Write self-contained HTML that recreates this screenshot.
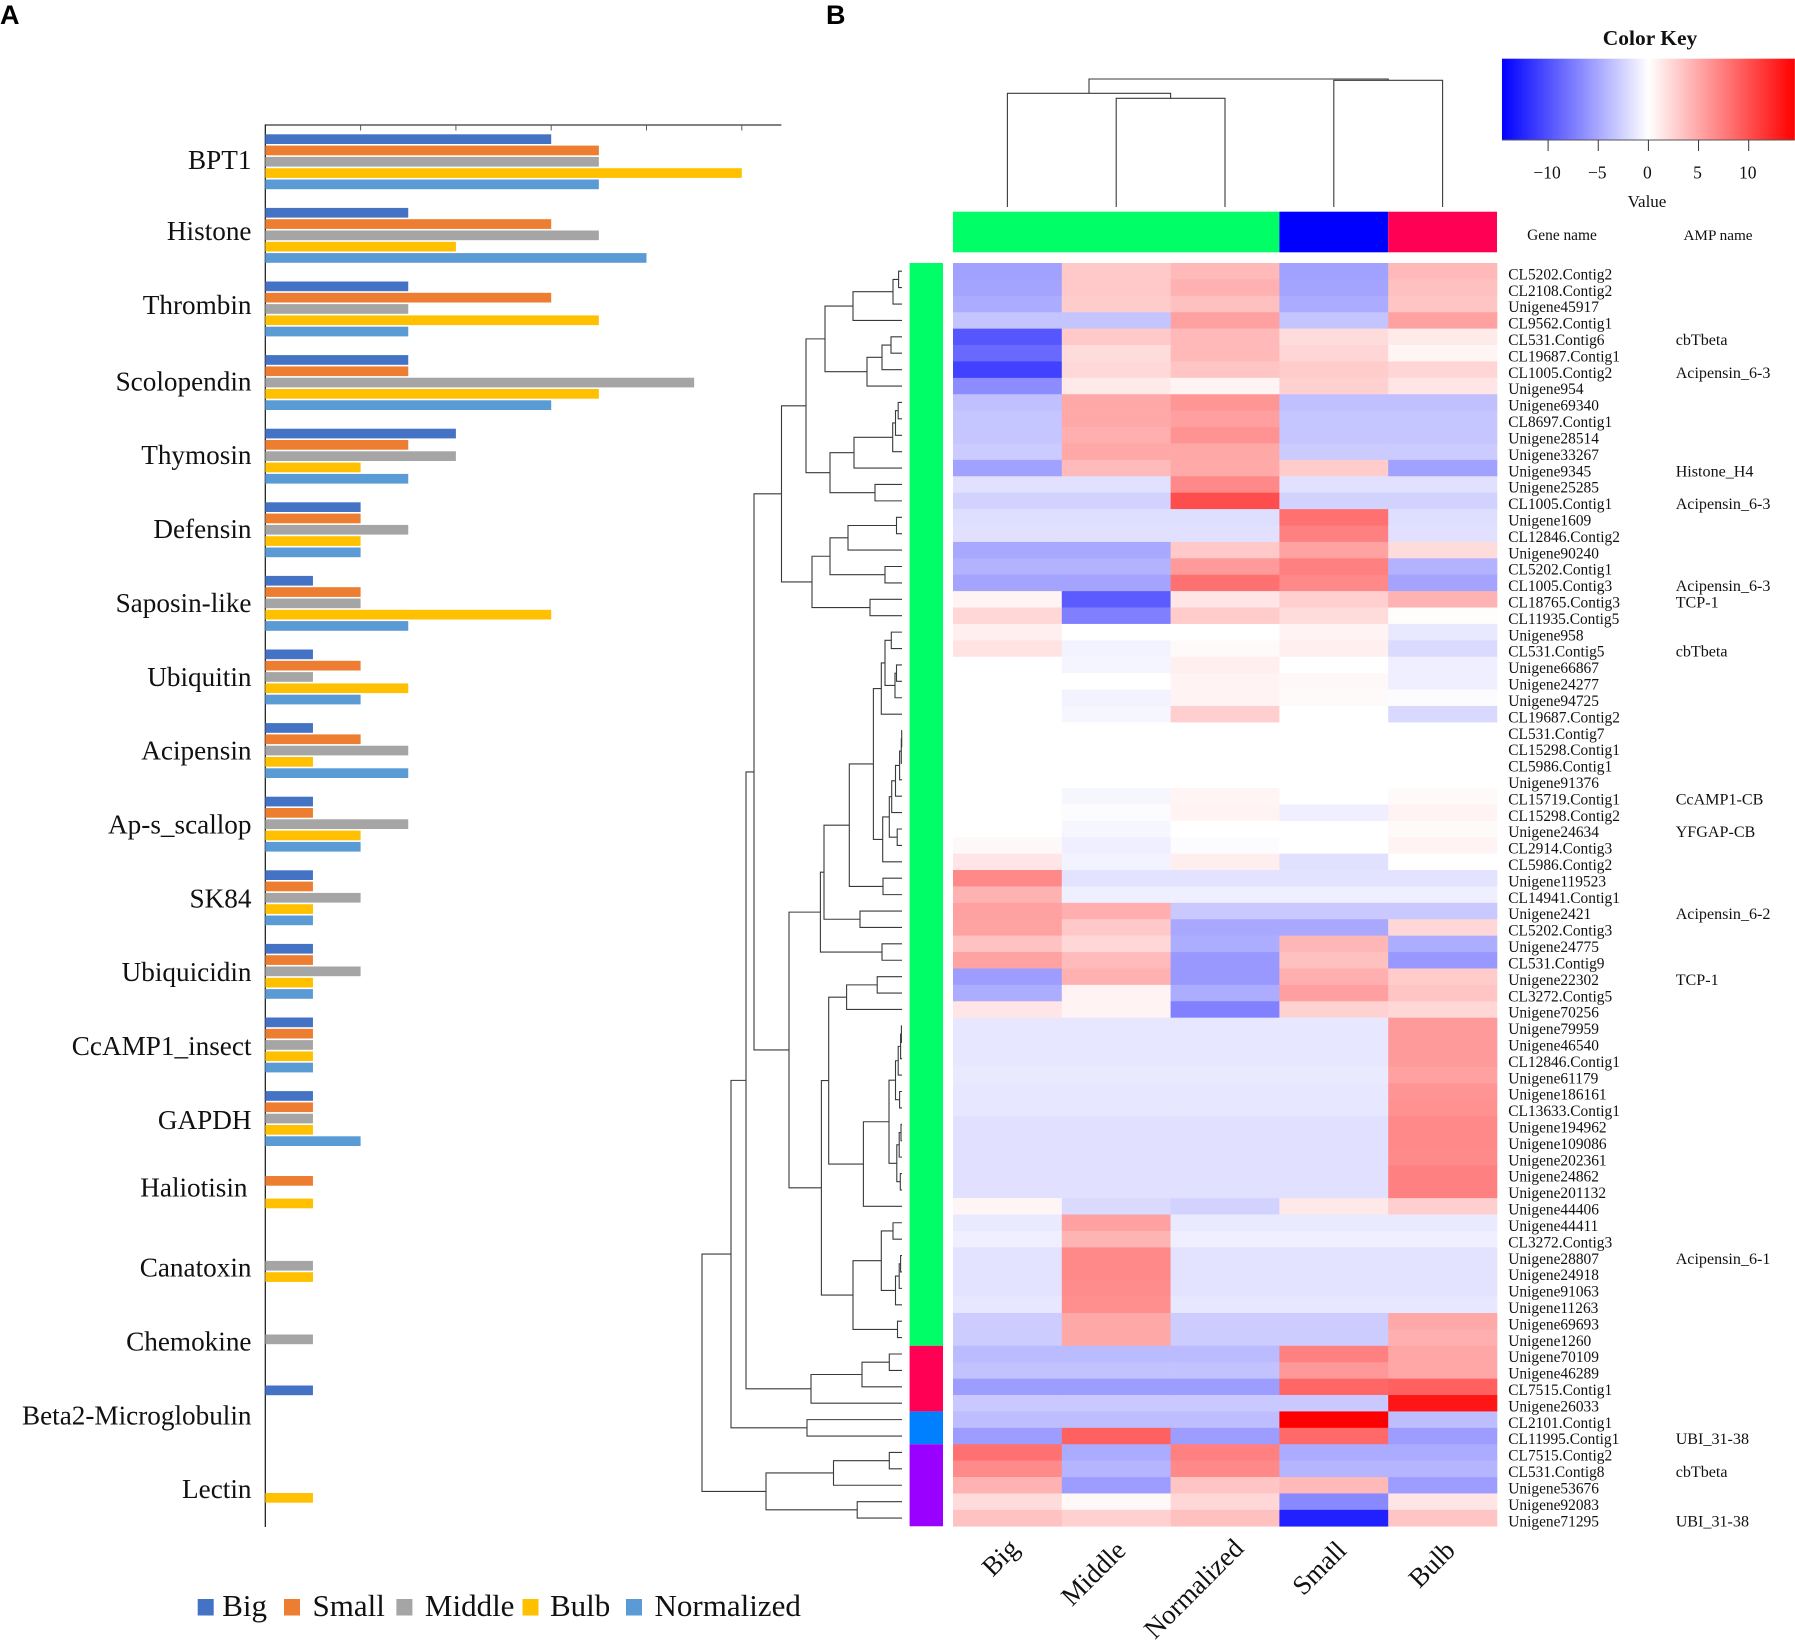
<!DOCTYPE html>
<html lang="en">
<head>
<meta charset="utf-8">
<title>AMP bar chart and heatmap</title>
<style>
html,body{margin:0;padding:0;background:#fff;}
#figure{display:block;width:1795px;height:1641px;background:#fff;}
text{font-family:"Liberation Serif",serif;fill:#111;}
.panel{font-family:"Liberation Sans",sans-serif;font-weight:700;font-size:27px;fill:#000;}
</style>
</head>
<body>
<svg id="figure" xmlns="http://www.w3.org/2000/svg" width="1795" height="1641" viewBox="0 0 1795 1641">
  <defs>
    <linearGradient id="keyGradient" x1="0" x2="1" y1="0" y2="0">
      <stop offset="0" stop-color="#0000ff"/>
      <stop offset="0.5" stop-color="#ffffff"/>
      <stop offset="1" stop-color="#ff0000"/>
    </linearGradient>
  </defs>
  <text class="panel" x="0" y="24">A</text>
  <text class="panel" x="826" y="24">B</text>
  <g id="barChart"></g>
  <g id="barLegend"></g>
  <g id="heatmap"></g>
  <g id="rowDendrogram"></g>
  <g id="colDendrogram"></g>
  <g id="colorBars"></g>
  <g id="heatLabels"></g>
  <g id="colorKey"></g>
</svg>
<script>
/* ---------- Panel A data ---------- */
const barCategories = ["BPT1","Histone","Thrombin","Scolopendin","Thymosin","Defensin","Saposin-like","Ubiquitin","Acipensin","Ap-s_scallop","SK84","Ubiquicidin","CcAMP1_insect","GAPDH","Haliotisin","Canatoxin","Chemokine","Beta2-Microglobulin","Lectin"];
const seriesNames = ["Big","Small","Middle","Bulb","Normalized"];
const seriesColors = ["#4472C4","#ED7D31","#A5A5A5","#FFC000","#5B9BD5"];
const bigValues = [6,3,3,3,4,2,1,1,1,1,1,1,1,1,0,0,0,1,0];
const smallValues = [7,6,6,3,3,2,2,2,2,1,1,1,1,1,1,0,0,0,0];
const middleValues = [7,7,3,9,4,3,2,1,3,3,2,2,1,1,0,1,1,0,0];
const bulbValues = [10,4,7,7,2,2,6,3,1,2,1,1,1,1,1,1,0,0,1];
const normalizedValues = [7,8,3,6,3,2,3,2,3,2,1,1,1,2,0,0,0,0,0];
const barTicks = [0,2,4,6,8,10];

/* ---------- Panel B data ---------- */
const heatColumns = ["Big","Middle","Normalized","Small","Bulb"];
const geneNames = ["CL5202.Contig2","CL2108.Contig2","Unigene45917","CL9562.Contig1","CL531.Contig6","CL19687.Contig1","CL1005.Contig2","Unigene954","Unigene69340","CL8697.Contig1","Unigene28514","Unigene33267","Unigene9345","Unigene25285","CL1005.Contig1","Unigene1609","CL12846.Contig2","Unigene90240","CL5202.Contig1","CL1005.Contig3","CL18765.Contig3","CL11935.Contig5","Unigene958","CL531.Contig5","Unigene66867","Unigene24277","Unigene94725","CL19687.Contig2","CL531.Contig7","CL15298.Contig1","CL5986.Contig1","Unigene91376","CL15719.Contig1","CL15298.Contig2","Unigene24634","CL2914.Contig3","CL5986.Contig2","Unigene119523","CL14941.Contig1","Unigene2421","CL5202.Contig3","Unigene24775","CL531.Contig9","Unigene22302","CL3272.Contig5","Unigene70256","Unigene79959","Unigene46540","CL12846.Contig1","Unigene61179","Unigene186161","CL13633.Contig1","Unigene194962","Unigene109086","Unigene202361","Unigene24862","Unigene201132","Unigene44406","Unigene44411","CL3272.Contig3","Unigene28807","Unigene24918","Unigene91063","Unigene11263","Unigene69693","Unigene1260","Unigene70109","Unigene46289","CL7515.Contig1","Unigene26033","CL2101.Contig1","CL11995.Contig1","CL7515.Contig2","CL531.Contig8","Unigene53676","Unigene92083","Unigene71295"];
const ampGenes = ["CL531.Contig6","CL1005.Contig2","Unigene9345","CL1005.Contig1","CL1005.Contig3","CL18765.Contig3","CL531.Contig5","CL15719.Contig1","Unigene24634","Unigene2421","Unigene22302","Unigene28807","CL11995.Contig1","CL531.Contig8","Unigene71295"];
const ampLabels = ["cbTbeta","Acipensin_6-3","Histone_H4","Acipensin_6-3","Acipensin_6-3","TCP-1","cbTbeta","CcAMP1-CB","YFGAP-CB","Acipensin_6-2","TCP-1","Acipensin_6-1","UBI_31-38","cbTbeta","UBI_31-38"];
const heatValues = [
[-5.4,3.1,4.0,-5.4,4.0],
[-5.2,3.1,4.5,-5.2,3.6],
[-4.8,2.9,3.6,-4.8,3.3],
[-3.4,-3.4,5.4,-3.4,5.4],
[-9.7,3.1,4.0,2.0,1.2],
[-8.6,2.0,4.0,2.4,0.6],
[-10.9,2.2,3.4,2.9,2.4],
[-6.6,1.2,0.7,2.7,1.5],
[-3.6,5.0,6.0,-3.6,-3.6],
[-3.3,5.0,5.5,-3.3,-3.3],
[-3.3,4.6,6.2,-3.3,-3.3],
[-3.0,5.0,5.0,-3.0,-3.0],
[-5.4,3.9,4.9,3.0,-5.4],
[-1.7,-1.7,6.8,-1.7,-1.7],
[-2.6,-2.6,10.2,-2.6,-2.6],
[-1.9,-1.9,-1.9,8.2,-1.9],
[-1.7,-1.7,-1.7,7.3,-1.7],
[-5.0,-5.0,3.1,5.3,2.0],
[-4.4,-4.4,5.8,7.3,-4.4],
[-5.2,-5.2,8.2,6.8,-5.2],
[0.7,-9.4,1.5,2.8,4.4],
[2.3,-7.3,3.0,2.0,0.2],
[0.9,0,0,0.7,-1.3],
[1.6,-0.7,0.3,0.9,-2.1],
[0,-0.6,0.9,0,-0.9],
[0,0,0.7,0.4,-0.9],
[0,-0.7,0.7,0.3,-0.2],
[0,-0.5,2.8,0,-2.2],
[0,0,0,0,0],
[0,0,0,0,0],
[0,0,0,0,0],
[0,0,0,0,0],
[0,-0.5,0.6,0,0.3],
[0,-0.2,0.7,-0.9,0.7],
[0,-0.5,0,0,0.3],
[0.4,-0.9,-0.2,0,0.7],
[1.5,-0.7,1.0,-1.8,0],
[6.8,-1.6,-1.6,-1.6,-1.6],
[4.4,-0.9,-0.9,-0.9,-0.9],
[5.4,4.6,-3.1,-3.1,-3.1],
[5.3,3.1,-5.0,-5.0,2.3],
[3.5,2.3,-4.7,4.2,-4.7],
[5.3,3.9,-5.9,3.6,-5.9],
[-5.6,4.5,-5.9,4.6,3.0],
[-4.7,0.7,-4.7,5.5,3.3],
[1.5,0.7,-7.2,2.6,2.3],
[-1.4,-1.4,-1.4,-1.4,5.8],
[-1.4,-1.4,-1.4,-1.4,5.8],
[-1.4,-1.4,-1.4,-1.4,5.8],
[-1.2,-1.2,-1.2,-1.2,5.4],
[-1.4,-1.4,-1.4,-1.4,6.1],
[-1.4,-1.4,-1.4,-1.4,6.3],
[-1.7,-1.7,-1.7,-1.7,6.8],
[-1.7,-1.7,-1.7,-1.7,6.8],
[-1.7,-1.7,-1.7,-1.7,6.7],
[-1.7,-1.7,-1.7,-1.7,7.3],
[-1.7,-1.7,-1.7,-1.7,7.3],
[0.6,-2.1,-2.6,1.3,2.8],
[-1.2,5.4,-1.2,-1.2,-1.2],
[-0.9,4.3,-0.9,-0.9,-0.9],
[-1.6,6.8,-1.6,-1.6,-1.6],
[-1.6,6.8,-1.6,-1.6,-1.6],
[-1.6,6.6,-1.6,-1.6,-1.6],
[-1.4,6.4,-1.4,-1.4,-1.4],
[-2.9,5.0,-2.9,-2.9,5.0],
[-2.9,5.0,-2.9,-2.9,4.6],
[-3.9,-3.9,-3.9,7.3,5.1],
[-3.5,-3.5,-3.5,5.9,5.1],
[-5.6,-5.6,-5.6,8.7,9.1],
[-3.1,-3.1,-3.1,-3.1,13.4],
[-3.8,-3.8,-3.8,14.6,-3.8],
[-5.6,9.1,-5.6,8.6,-5.6],
[8.2,-4.8,7.3,-4.8,-4.8],
[6.7,-4.3,6.8,-4.3,-4.3],
[4.4,-5.6,3.4,4.0,-5.6],
[2.0,0.4,2.3,-6.8,1.5],
[3.5,2.7,3.6,-12.7,3.3]
];
const keyTicks = [-10,-5,0,5,10];
const keyMax = 14.6;

/* Cluster groups: colour plus number of rows / columns in the group */
const rowGroupColors = ["#00FF66","#FF0055","#0080FF","#9900FF"];
const rowGroupCounts = [66,4,2,5];
const colGroupColors = ["#00FF66","#0000FF","#FF0055"];
const colGroupCounts = [3,1,1];

/* Dendrogram merge heights: [height, left, right]; integers are 1-based leaves */
const treeA = [77,[49,[9,[3.4,1,2],3],4],[35,[20,[11,5,6],7],8]];
const treeB = [72,[48,[9.3,[6.5,[3.8,9,10],11],12],13],[27,14,15]];
const treeC = [90,[72,[54,[5.5,16,17],18],[17,19,20]],[32,21,22]];
const treeD = [28.6,[20.7,[17,[10.7,23,24],[7,[5.5,25,26],27]],28],[19.3,[12.7,[10.3,[6.5,[2.4,[0.7,[0.3,29,30],31],32],33],34],[4.8,35,36]],37]];
const treeE = [81.6,[78,[52.7,treeD,[19,38,39]],[42,40,41]],[20,42,43]];
const treeF = [73.3,[55.4,[24.8,44,45],46],[38.6,[13,[6.5,[3.8,[1.4,[0.6,47,48],49],50],[2.4,51,52]],[5.2,[2.8,[1,53,54],55],[1.7,56,57]]],58]];
const treeG = [49,[20.7,[9,59,60],[6.5,[2.8,[1.4,61,62],63],64]],[4.5,65,66]];
const treeGreen = [148,[120.5,[96,treeA,treeB],treeC],[113,treeE,[80.6,treeF,treeG]]];
const treeRed = [91,[40,[12.7,67,68],69],70];
const treePurple = [136,[68.5,[12.7,73,74],75],[44.8,76,77]];
const rowTree = [200,[171,[156,treeGreen,treeRed],[95,71,72]],treePurple];
const colTree = [128,[113.7,1,[108.7,2,3]],[126.7,4,5]];

/* ---------- helpers ---------- */
const SVGNS = "http://www.w3.org/2000/svg";
function make(parent, tag, attrs, txt){
  const el = document.createElementNS(SVGNS, tag);
  for (const k in attrs) el.setAttribute(k, attrs[k]);
  if (txt !== undefined) el.textContent = txt;
  parent.appendChild(el);
  return el;
}
function slug(s){ return String(s).toLowerCase().replace(/[^a-z0-9]+/g,'-'); }

/* ---------- Panel A ---------- */
const barX0 = 265.3, barUnit = 47.65, barTop = 134.3, barStep = 11.3, barH = 9.7, groupStep = 73.6;
const barXScale = v => barX0 + v * barUnit;
const barSeries = [bigValues, smallValues, middleValues, bulbValues, normalizedValues];
const barRoot = document.getElementById('barChart');

const topAxis = make(barRoot,'line',{x1:barX0,x2:781.4,y1:125,y2:125,stroke:'#595959','stroke-width':1.6});


const catAxis = make(barRoot,'line',{x1:barX0,x2:barX0,y1:124.5,y2:1527,stroke:'#111','stroke-width':1.2});


barTicks.slice(1).forEach(t=>{
  const tick = make(barRoot,'line',{x1:barXScale(t),x2:barXScale(t),y1:125,y2:130.5,stroke:'#595959','stroke-width':1});
  
  
});
barCategories.forEach((cat,i)=>{
  const gy = barTop + i*groupStep;
  const dx = cat === 'Haliotisin' ? -4 : 0;
  const dy = cat === 'Haliotisin' ? -6 : (cat === 'Histone' || cat === 'Thrombin') ? -2.5 : 0;
  const label = make(barRoot,'text',{x:251.5+dx,y:168.8+i*73.85+dy,'text-anchor':'end','font-size':27.2},cat);
  
  
  barSeries.forEach((vals,s)=>{
    if(!vals[i]) return;
    const bar = make(barRoot,'rect',{x:barX0,y:gy+s*barStep,width:barXScale(vals[i])-barX0,height:barH,fill:seriesColors[s]});
    
    
  });
});

/* legend flows from the series names */
const legendRoot = document.getElementById('barLegend');
let legendX = 197.7;
seriesNames.forEach((name,s)=>{
  const sw = make(legendRoot,'rect',{x:legendX,y:1599,width:16,height:16.5,fill:seriesColors[s]});
  
  
  const t = make(legendRoot,'text',{x:legendX+(s===0?24.5:(s===3?27.5:28.5)),y:1616,'font-size':31},name);
  
  
  legendX += [86.3,112.4,126.1,103.5,0][s];
});

/* ---------- Panel B heatmap ---------- */
const heatX0 = 953, cellW = 108.8, heatY0 = 263, cellH = 16.406;
const colX = c => heatX0 + c*cellW;
const rowY = r => heatY0 + r*cellH;
function heatColor(v){
  const t = Math.min(1, Math.abs(v)/keyMax);
  const k = Math.round(255*(1-t));
  return v >= 0 ? `rgb(255,${k},${k})` : `rgb(${k},${k},255)`;
}
const heatRoot = document.getElementById('heatmap');
heatValues.forEach((row,r)=>{
  row.forEach((v,c)=>{
    const cell = make(heatRoot,'rect',{x:colX(c),y:rowY(r),width:cellW+0.3,height:cellH+0.3,fill:heatColor(v)});
    
    
  });
});

/* ---------- dendrograms ---------- */
function layoutTree(node, leafPos){
  if (typeof node === 'number') return {pos:leafPos(node), h:0, kids:null};
  const a = layoutTree(node[1], leafPos), b = layoutTree(node[2], leafPos);
  return {pos:(a.pos+b.pos)/2, h:node[0], kids:[a,b]};
}
function drawRowNode(n, root, hx){
  if(!n.kids) return;
  const x = hx(n.h);
  const [a,b] = n.kids;
  const p = make(root,'path',{d:`M${hx(a.h)} ${a.pos}H${x}V${b.pos}H${hx(b.h)}`,fill:'none',stroke:'#3a3a3a','stroke-width':1.1});
  
  
  drawRowNode(a,root,hx); drawRowNode(b,root,hx);
}
function drawColNode(n, root, hy){
  if(!n.kids) return;
  const y = hy(n.h);
  const [a,b] = n.kids;
  const p = make(root,'path',{d:`M${a.pos} ${hy(a.h)}V${y}H${b.pos}V${hy(b.h)}`,fill:'none',stroke:'#3a3a3a','stroke-width':1.1});
  
  
  drawColNode(a,root,hy); drawColNode(b,root,hy);
}
drawRowNode(layoutTree(rowTree, i=>rowY(i-0.5)), document.getElementById('rowDendrogram'), h=>902-h);
drawColNode(layoutTree(colTree, i=>colX(i-0.5)), document.getElementById('colDendrogram'), h=>207-h);

/* ---------- cluster colour bars ---------- */
const barsRoot = document.getElementById('colorBars');
let cStart = 0;
colGroupCounts.forEach((n,i)=>{
  const b = make(barsRoot,'rect',{x:colX(cStart),y:211.7,width:n*cellW,height:40.6,fill:colGroupColors[i]});
  
  
  cStart += n;
});
let rStart = 0;
rowGroupCounts.forEach((n,i)=>{
  const b = make(barsRoot,'rect',{x:909.6,y:rowY(rStart),width:33.4,height:n*cellH,fill:rowGroupColors[i]});
  
  
  rStart += n;
});

/* ---------- heatmap labels ---------- */
const labelRoot = document.getElementById('heatLabels');
geneNames.forEach((g,r)=>{
  const y = rowY(r+0.5)+8.2;
  const t = make(labelRoot,'text',{x:1508.3,y:y,'font-size':15.4},g);
  
  
  const k = ampGenes.indexOf(g);
  if(k>=0){
    const a = make(labelRoot,'text',{x:1675.7,y:y,'font-size':16.1},ampLabels[k]);
    
    
  }
});
const geneHead = make(labelRoot,'text',{x:1562,y:240,'text-anchor':'middle','font-size':15.4},'Gene name');


const ampHead = make(labelRoot,'text',{x:1718,y:240,'text-anchor':'middle','font-size':15.2},'AMP name');


heatColumns.forEach((c,i)=>{
  const nudgeX = c === 'Normalized' ? 6 : c === 'Middle' ? -3 : c === 'Big' ? -1 : 0;
  const nudgeY = c === 'Normalized' ? -2 : c === 'Big' ? -2 : 0;
  const x = colX(i+0.5)+14+nudgeX, y = 1552+nudgeY;
  const t = make(labelRoot,'text',{x:x,y:y,'text-anchor':'end','font-size':27,transform:`rotate(-45 ${x} ${y})`},c);
  
  
});

/* ---------- colour key ---------- */
const keyRoot = document.getElementById('colorKey');
const keyX = v => 1648.4 + v*10.03;
const keyTitle = make(keyRoot,'text',{x:1650,y:45,'text-anchor':'middle','font-size':21.5,'font-weight':700},'Color Key');


const keyRect = make(keyRoot,'rect',{x:keyX(-keyMax),y:58.7,width:keyX(keyMax)-keyX(-keyMax),height:81.3,fill:'url(#keyGradient)'});


const keyLine = make(keyRoot,'line',{x1:keyX(-keyMax),x2:keyX(keyMax),y1:140,y2:140,stroke:'#555','stroke-width':1});


keyTicks.forEach(v=>{
  const tick = make(keyRoot,'line',{x1:keyX(v),x2:keyX(v),y1:140,y2:151,stroke:'#333','stroke-width':1});
  
  
  const lab = make(keyRoot,'text',{x:keyX(v)-1,y:178.5,'text-anchor':'middle','font-size':17.5},(v<0?'\u2212':'')+Math.abs(v));
  
  
});
const keyValue = make(keyRoot,'text',{x:1647,y:207,'text-anchor':'middle','font-size':17},'Value');


</script>
</body>
</html>
